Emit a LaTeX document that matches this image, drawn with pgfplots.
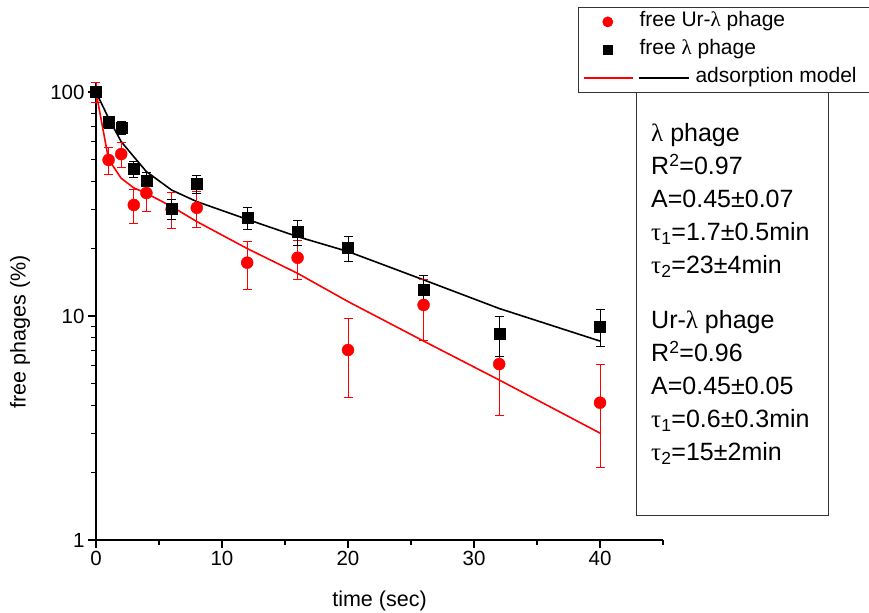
\documentclass[border=0pt]{standalone}
\usepackage{fontspec}
\setmainfont{Liberation Sans}
\newfontfamily\grk{Liberation Serif}
\usepackage{pgfplots}
\pgfplotsset{compat=1.18}
\usepackage{pgfplotstable}

\newcommand{\lam}{{\grk λ}}
\newcommand{\tu}{{\grk τ}}

\pgfplotstableread{
t y e
0 100 5
1 73.5 4.5
2 69 4.5
3 45.3 3.8
4 40.1 3.5
6 30.1 3.2
8 38.8 3.5
12 27.4 3
16 23.7 3
20 20.1 2.6
26 13.1 2
32 8.3 1.7
40 9.0 1.7
}\lamdata

\pgfplotstableread{
t y e
0 100 10
1 49.7 7
2 52.8 7
3 31.3 5.5
4 35.4 6
6 30 5.5
8 30.4 5.5
12 17.3 4.2
16 18.2 3.6
20 7.05 2.7
26 11.2 3.4
32 6.1 2.5
40 4.1 2
}\urdata

\pgfplotstableread{
t y
0 100
1 76.3
2 60
3 51.4
4 44.1
6 36.5
8 32.4
12 27.0
16 22.6
20 19.4
26 14.5
32 10.8
40 7.73
}\lammodel

\pgfplotstableread{
t y
0 100
1 50
2 41.2
3 37.3
4 35.3
6 30.8
8 26.4
12 20.0
16 15.5
20 11.6
26 7.73
32 5.18
40 3.0
}\urmodel

\begin{document}
\begin{tikzpicture}
\useasboundingbox (-96bp,-73bp) rectangle (773bp,540bp);
\clip (-96bp,-73bp) rectangle (773bp,540bp);
\begin{axis}[
  scale only axis,
  width=567bp, height=457.3bp,
  xmin=0, xmax=45,
  ymode=log, ymin=1, ymax=110,
  axis x line*=bottom, axis y line*=left,
  axis line style={line width=1.3bp, -},
  xtick={0,10,20,30,40},
  minor xtick={5,15,25,35,45},
  ytick={1,10,100},
  log ticks with fixed point,
  tick align=outside,
  major tick length=8bp,
  minor tick length=5bp,
  every tick/.style={black, line width=1.1bp},
  /pgf/number format/assume math mode=true,
  ticklabel style={font=\fontsize{20.5bp}{24bp}\selectfont},
  every axis x label/.style={at={(rel axis cs:0.5,0)}, yshift=-61bp, anchor=center},
  every axis y label/.style={at={(rel axis cs:0,0.455)}, xshift=-76bp, rotate=90, anchor=center},
  label style={font=\fontsize{21.5bp}{25bp}\selectfont},
  xlabel={time (sec)},
  ylabel={free phages (\%)},
  legend style={at={(0.85009,1.16554)}, anchor=north west,
    draw=black!80, line width=0.8bp, fill=white,
    inner xsep=4bp, inner ysep=5.5bp,
    column sep=6bp, row sep=10bp,
    font=\fontsize{21bp}{25bp}\selectfont,
    nodes={inner sep=0bp, anchor=west, text height=14bp, text depth=4bp}},
  legend cell align=left,
  clip=false,
]
\addplot[forget plot, red, line width=1.6bp] table[x=t,y=y]{\urmodel};
\addplot[forget plot, black, line width=1.6bp] table[x=t,y=y]{\lammodel};

\addplot[forget plot, only marks, mark=*, mark size=6bp, red, mark options={fill=red, draw=red},
  error bars/.cd, y dir=both, y explicit,
  error bar style={red, line width=0.9bp},
  error mark options={rotate=90, mark size=4.5bp, red, line width=0.9bp}]
  table[x=t,y=y,y error=e]{\urdata};

\addplot[forget plot, only marks, mark=square*, mark size=5.5bp, black, mark options={fill=black, draw=black},
  error bars/.cd, y dir=both, y explicit,
  error bar style={black, line width=0.9bp},
  error mark options={rotate=90, mark size=4.5bp, black, line width=0.9bp}]
  table[x=t,y=y,y error=e]{\lamdata};

\addlegendimage{legend image code/.code={\path (0bp,0bp) (50bp,0bp); \fill[red] (25bp,0bp) circle[radius=5bp];}}
\addlegendentry{free Ur-\lam{} phage}
\addlegendimage{legend image code/.code={\path (0bp,0bp) (50bp,0bp); \fill[black] (20.5bp,-4.5bp) rectangle (29.5bp,4.5bp);}}
\addlegendentry{free \lam{} phage}
\addlegendimage{legend image code/.code={\path (0bp,0bp) (50bp,0bp); \draw[color=red,line width=1.5bp] (1bp,0bp)--(50bp,0bp); \draw[color=black,line width=1.5bp,overlay] (56bp,0bp)--(106bp,0bp);}}
\addlegendentry{\hspace*{56bp}adsorption model\hspace*{15bp}}
\end{axis}

\draw[black!80, line width=0.8bp] (540bp,25bp) rectangle (732bp,448bp);
\begin{scope}[every node/.style={anchor=base west, inner sep=0pt, font=\fontsize{25bp}{30bp}\selectfont}]
\node at (555bp,398bp) {\lam{} phage};
\node at (555bp,365bp) {R\textsuperscript{2}=0.97};
\node at (555bp,332bp) {A=0.45±0.07};
\node at (555bp,299bp) {\tu\textsubscript{1}=1.7±0.5min};
\node at (555bp,266bp) {\tu\textsubscript{2}=23±4min};
\node at (555bp,211bp) {Ur-\lam{} phage};
\node at (555bp,178bp) {R\textsuperscript{2}=0.96};
\node at (555bp,145bp) {A=0.45±0.05};
\node at (555bp,112bp) {\tu\textsubscript{1}=0.6±0.3min};
\node at (555bp,79bp) {\tu\textsubscript{2}=15±2min};
\end{scope}
\end{tikzpicture}
\end{document}
